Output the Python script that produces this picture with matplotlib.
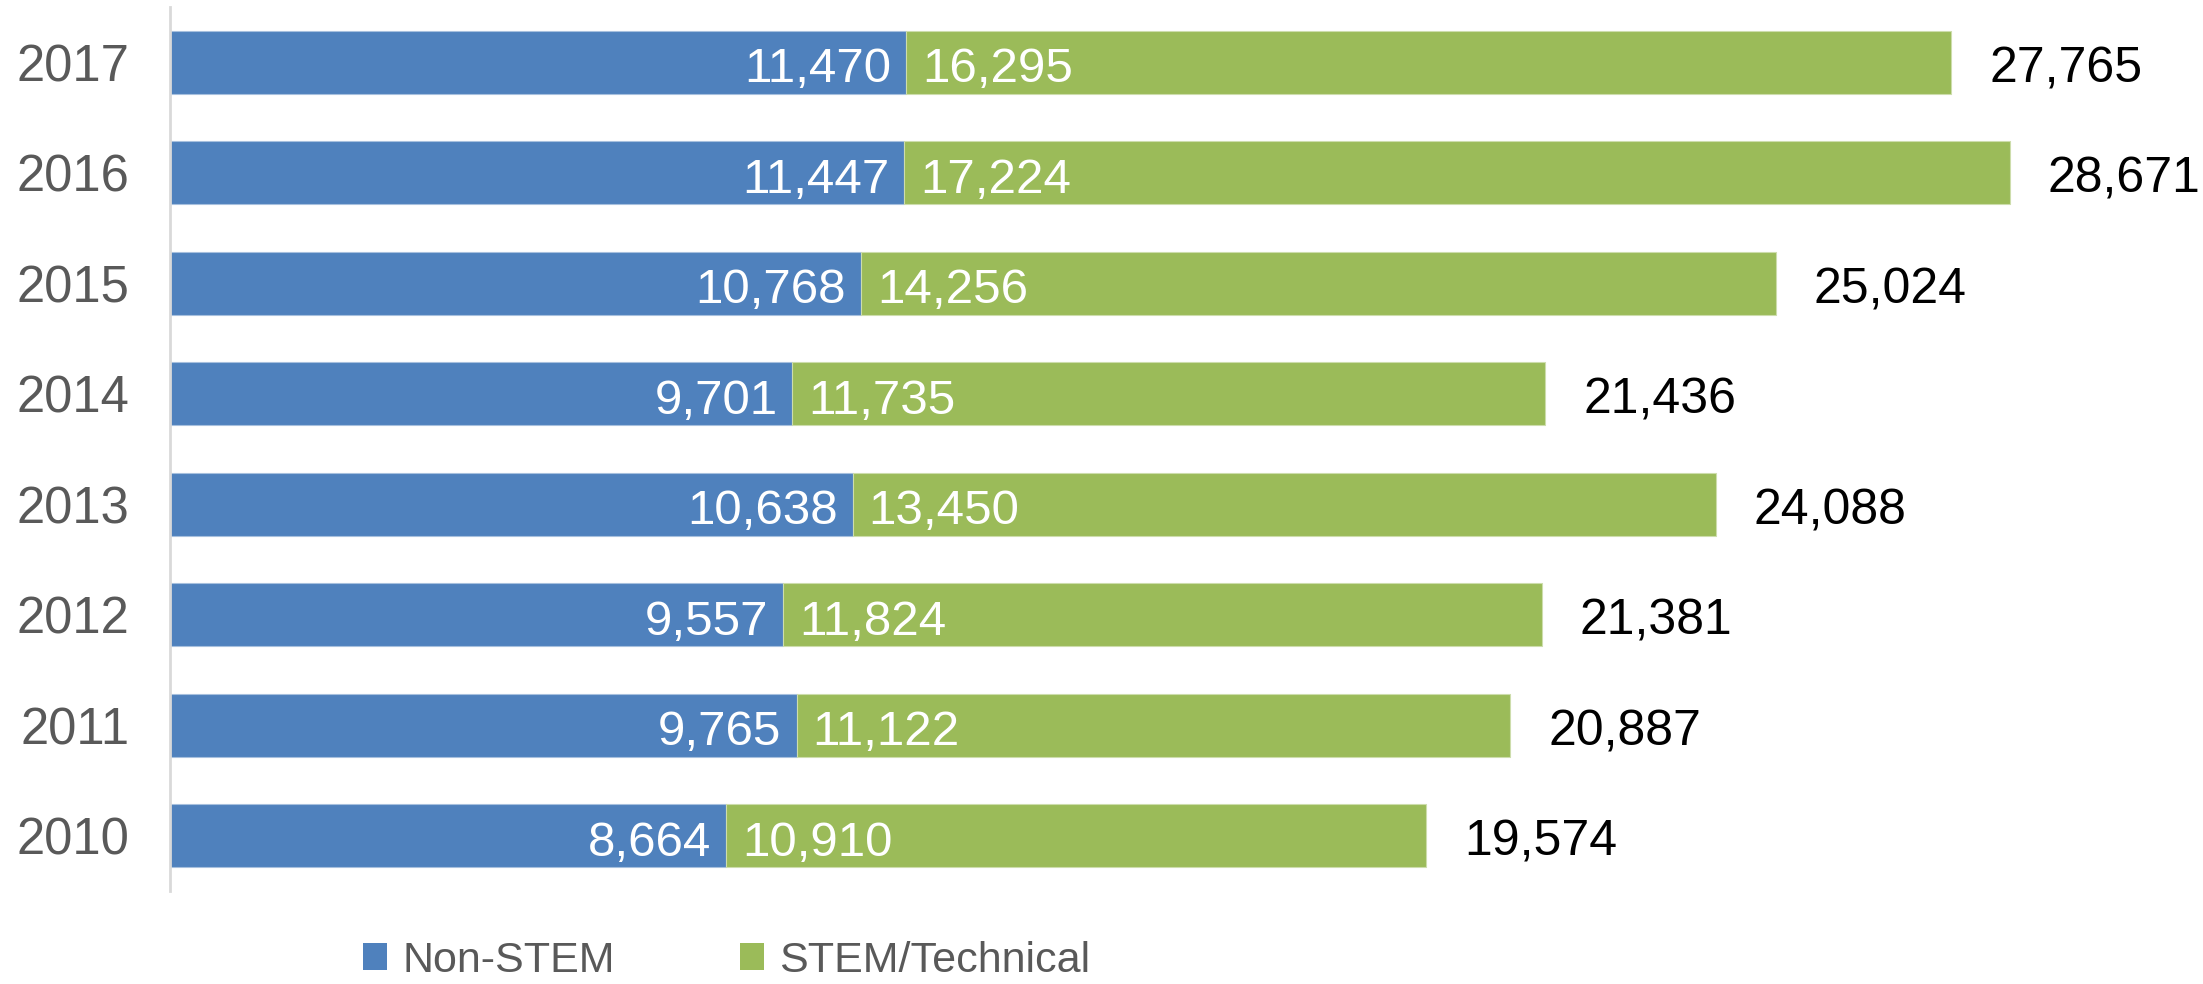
import matplotlib
matplotlib.use("Agg")
import matplotlib.pyplot as plt
from matplotlib.patches import Patch

years = ["2010", "2011", "2012", "2013", "2014", "2015", "2016", "2017"]
non_stem = [8664, 9765, 9557, 10638, 9701, 10768, 11447, 11470]
stem = [10910, 11122, 11824, 13450, 11735, 14256, 17224, 16295]
totals = [19574, 20887, 21381, 24088, 21436, 25024, 28671, 27765]
series_names = ["Non-STEM", "STEM/Technical"]

BLUE = "#4F81BD"
GREEN = "#9BBB59"
GRAY = "#595959"
ARIAL = ["Liberation Sans", "DejaVu Sans"]

W, H, DPI = 2203, 984, 100
fig = plt.figure(figsize=(W / DPI, H / DPI), dpi=DPI)
ax = fig.add_axes([170 / W, 1 - 891 / H, 1 - 170 / W, (891 - 7) / H])

y = list(range(len(years)))
ax.barh(y, non_stem, height=0.57, color=BLUE, edgecolor="#A7C0DE", linewidth=0.8)
ax.barh(y, stem, left=non_stem, height=0.57, color=GREEN, edgecolor="#CDDDAC", linewidth=0.8)

ax.set_xlim(0, 31686)
ax.set_ylim(-0.5, len(years) - 0.5)

px = 31686 / (W - 170)  # data units per pixel
for i in y:
    ax.text(non_stem[i] - 15 * px, i - 0.07, f"{non_stem[i]:,}", ha="right", va="center",
            color="white", fontsize=35.5, family=ARIAL)
    ax.text(non_stem[i] + 16 * px, i - 0.07, f"{stem[i]:,}", ha="left", va="center",
            color="white", fontsize=35.5, family=ARIAL)
    ax.text(totals[i] + 38 * px, i - 0.065, f"{totals[i]:,}", ha="left", va="center",
            color="black", fontsize=36, family=ARIAL)

ax.set_yticks(y)
ax.set_yticklabels(years, fontsize=36.5, color=GRAY, family=ARIAL)
ax.tick_params(axis="y", length=0, pad=29)
ax.set_xticks([])
for s in ["top", "right", "bottom"]:
    ax.spines[s].set_visible(False)
ax.spines["left"].set_color("#D9D9D9")
ax.spines["left"].set_linewidth(2)

handles = [Patch(facecolor=BLUE), Patch(facecolor=GREEN)]
fig.legend(handles, series_names, loc="center left", bbox_to_anchor=(363 / W, 1 - 961 / H),
           ncol=2, frameon=False, prop={"family": ARIAL, "size": 31},
           handlelength=0.56, handleheight=0.58, handletextpad=0.35, columnspacing=2.9,
           labelcolor=GRAY, borderpad=0, borderaxespad=0)

fig.savefig("out.png", dpi=DPI)
